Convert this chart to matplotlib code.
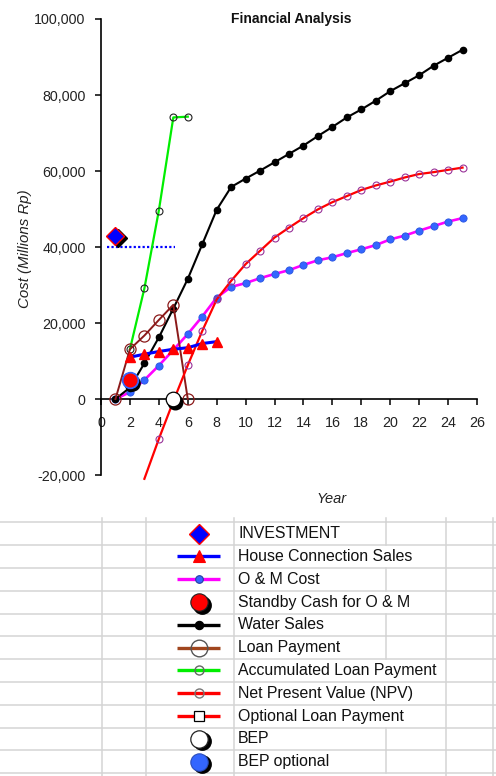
import matplotlib
matplotlib.use("Agg")
import matplotlib.pyplot as plt
from matplotlib.lines import Line2D
from matplotlib.transforms import offset_copy

plt.rcParams['font.family'] = ['Liberation Sans', 'DejaVu Sans']

# ---- data (Millions Rp) ----
years = list(range(1, 26))
water_sales = [0, 3000, 9400, 16200, 23800, 31600, 40700, 49800, 55800, 58000,
               60100, 62300, 64500, 66700, 69200, 71600, 74100, 76200, 78500,
               81000, 83100, 85200, 87700, 89800, 91900]
om_cost = [0, 1800, 5000, 8800, 12900, 17100, 21700, 26700, 29500, 30500,
           31800, 32900, 33900, 35300, 36500, 37300, 38400, 39400, 40500,
           42000, 43000, 44300, 45500, 46700, 47600]

npv_years = list(range(3, 26))
npv = [-21000, -10500, -600, 8900, 17900, 26200, 31100, 35500, 39000, 42500,
       45100, 47600, 49900, 51800, 53400, 55000, 56200, 57200, 58300, 59200,
       59700, 60300, 60900]

loan_years = [1, 2, 3, 4, 5, 6]
loan_payment = [0, 13100, 16700, 20800, 24800, 0]

acc_years = [2, 3, 4, 5, 6]
acc_loan_payment = [13100, 29100, 49600, 74100, 74300]

hc_years = [2, 3, 4, 5, 6, 7, 8]
house_connection = [11000, 11800, 12500, 13100, 13500, 14600, 15100]

investment_year, investment = 1, 43000
invest_level_x = [0.4, 5.1]
invest_level_y = [40000, 40000]
standby_year, standby_cash = 2, 5000
bep_year, bep_value = 4.95, 0

legend_labels = ["INVESTMENT", "House Connection Sales", "O & M Cost",
                 "Standby Cash for O & M", "Water Sales", "Loan Payment",
                 "Accumulated Loan Payment", "Net Present Value (NPV)",
                 "Optional Loan Payment", "BEP", "BEP optional"]

x_ticks = list(range(0, 27, 2))
y_ticks = [-20000, 0, 20000, 40000, 60000, 80000, 100000]

# ---- figure ----
W, H = 496, 776
fig = plt.figure(figsize=(W / 100, H / 100), dpi=100)
fig.patch.set_facecolor('white')


def fx(x):
    return x / W


def fy(y):
    return 1 - y / H


ax = fig.add_axes([fx(101), fy(483), fx(477) - fx(101), fy(19) - fy(483)])
ax.set_xlim(0, 26)
ax.set_ylim(-22100, 100000)
ax.patch.set_alpha(0)

for s in ('top', 'right'):
    ax.spines[s].set_visible(False)
ax.spines['bottom'].set_position(('data', 0))
ax.spines['left'].set_bounds(-20000, 100000)
ax.spines['left'].set_linewidth(1.2)
ax.spines['bottom'].set_linewidth(1.2)

ax.set_xticks(x_ticks)
ax.set_yticks(y_ticks)
ax.set_yticklabels([f"{v:,}" for v in y_ticks])
ax.tick_params(axis='x', direction='out', length=4, pad=8, labelsize=10.3,
               labelcolor='#222222', width=1.1)
ax.tick_params(axis='y', direction='out', length=4, pad=7, labelsize=10.3,
               labelcolor='#222222', width=1.1)

fig.text(fx(291), fy(19), "Financial Analysis", fontsize=10,
         fontweight='bold', ha='center', va='center', color='#111111')
fig.text(fx(25), fy(249), "Cost (Millions Rp)", rotation=90, style='italic',
         fontsize=10.8, ha='center', va='center', color='#222222')
fig.text(fx(332), fy(499), "Year", style='italic', fontsize=10.5,
         ha='center', va='center', color='#222222')

shadow = offset_copy(ax.transData, fig=fig, x=2.5, y=-2.5, units='dots')

# investment level line and marker
ax.plot(invest_level_x, invest_level_y, color='#0000ff', lw=1.6,
        ls=(0, (1, 1)), zorder=3)
ax.plot([investment_year], [investment], marker='D', ms=9, color='black',
        transform=shadow, ls='none', zorder=4)
ax.plot([investment_year], [investment], marker='D', ms=9, mfc='#0000ff',
        mec='#ff0000', mew=1, ls='none', zorder=5)

# O & M cost
ax.plot(years, om_cost, color='#ff00ff', lw=1.9, marker='o', ms=5.2,
        mfc='#3366ff', mec='#2a55e0', mew=0.6, zorder=4)

# Water sales
ax.plot(years, water_sales, color='black', lw=1.5, marker='o', ms=4.5,
        mfc='black', mec='black', zorder=5)

# Net present value
ax.plot(npv_years, npv, color='#ff0000', lw=1.6, marker='o', ms=5,
        mfc='none', mec='#993399', mew=0.8, markevery=list(range(1, len(npv))),
        zorder=6)

# Accumulated loan payment
ax.plot(acc_years, acc_loan_payment, color='#00ee00', lw=1.6, marker='o',
        ms=5, mfc='none', mec='#222222', mew=0.8, zorder=4)

# Loan payment
ax.plot(loan_years, loan_payment, color='#8b1a1a', lw=1.4, marker='o',
        ms=8, mfc='none', mec='#8b1a1a', mew=0.9, zorder=5)

# House connection sales
ax.plot(hc_years, house_connection, color='#0000ff', lw=2.2, zorder=6)
ax.plot(hc_years, house_connection, ls='none', marker='^', ms=7.5,
        mfc='#ff0000', mec='#ff0000', zorder=7)

# Standby cash over optional BEP
ax.plot([standby_year], [standby_cash], marker='o', ms=11, color='black',
        transform=shadow, ls='none', zorder=7)
ax.plot([standby_year], [standby_cash], marker='o', ms=11.5, mfc='#3366ff',
        mec='#3366ff', ls='none', zorder=8)
ax.plot([standby_year], [standby_cash], marker='o', ms=9, mfc='#ff0000',
        mec='#ff0000', ls='none', zorder=9)

# Break even point
ax.plot([bep_year], [bep_value], marker='o', ms=10.5, color='black',
        transform=shadow, ls='none', zorder=9)
ax.plot([bep_year], [bep_value], marker='o', ms=10.5, mfc='white',
        mec='black', mew=0.9, ls='none', zorder=10)

# ---- sheet grid with legend ----
grid_c = '#d4d4d4'
row_top = 522.3
row_h = 22.8
n_rows = len(legend_labels)
for i in range(n_rows + 1):
    y = row_top + i * row_h
    fig.add_artist(Line2D([0, 1], [fy(y), fy(y)], color=grid_c, lw=1.1,
                          transform=fig.transFigure))
for x in (102.3, 146, 234.3, 445.7, 492.7):
    fig.add_artist(Line2D([fx(x), fx(x)], [fy(518), 0], color=grid_c, lw=1.1,
                          transform=fig.transFigure))
short_rows = {0, 2, 4, 5, 9, 10}
for i in short_rows:
    y0 = row_top + i * row_h
    fig.add_artist(Line2D([fx(385.7), fx(385.7)], [fy(y0), fy(y0 + row_h)],
                          color=grid_c, lw=1.1, transform=fig.transFigure))
fig.add_artist(Line2D([fx(385.7), fx(385.7)], [fy(518), fy(row_top)],
                      color=grid_c, lw=1.1, transform=fig.transFigure))

sym_x = 199
seg = [fx(177), fx(220)]
fshadow = offset_copy(fig.transFigure, fig=fig, x=2.5, y=-2.5, units='dots')


def legend_row(i, line_color=None, marker=None, ms=6, mfc='none', mec='k',
               mew=0.8, shadowed=False):
    yc = fy(row_top + i * row_h + row_h / 2)
    if line_color is not None:
        fig.add_artist(Line2D(seg, [yc, yc], color=line_color, lw=2.4,
                              transform=fig.transFigure, solid_capstyle='butt'))
    if marker is not None:
        if shadowed:
            fig.add_artist(Line2D([fx(sym_x)], [yc], marker=marker, ms=ms,
                                  color='black', ls='none',
                                  transform=fshadow))
        fig.add_artist(Line2D([fx(sym_x)], [yc], marker=marker, ms=ms,
                              mfc=mfc, mec=mec, mew=mew, ls='none',
                              transform=fig.transFigure))
    fig.text(fx(238), yc, legend_labels[i], fontsize=11.4, ha='left',
             va='center', color='#111111')


legend_row(0, None, 'D', 10, '#0000ff', '#ff0000', 1.0)
legend_row(1, '#0000ff', '^', 9, '#ff0000', '#ff0000')
legend_row(2, '#ff00ff', 'o', 5.5, '#3366ff', '#2040a0', 0.8)
legend_row(3, None, 'o', 12.5, '#ff0000', '#222222', 0.8, shadowed=True)
legend_row(4, 'black', 'o', 6, 'black', 'black')
legend_row(5, '#a0461e', 'o', 12, 'none', '#555555', 1.0)
legend_row(6, '#00ee00', 'o', 6.5, 'none', '#666666', 1.0)
legend_row(7, '#ff0000', 'o', 6.5, 'none', '#777777', 1.0)
legend_row(8, '#ff0000', 's', 7, 'white', 'black', 0.9)
legend_row(9, None, 'o', 12.5, 'white', '#222222', 0.9, shadowed=True)
legend_row(10, None, 'o', 12.5, '#3366ff', '#2a4dbb', 0.8, shadowed=True)

fig.savefig("out.png", dpi=100)
